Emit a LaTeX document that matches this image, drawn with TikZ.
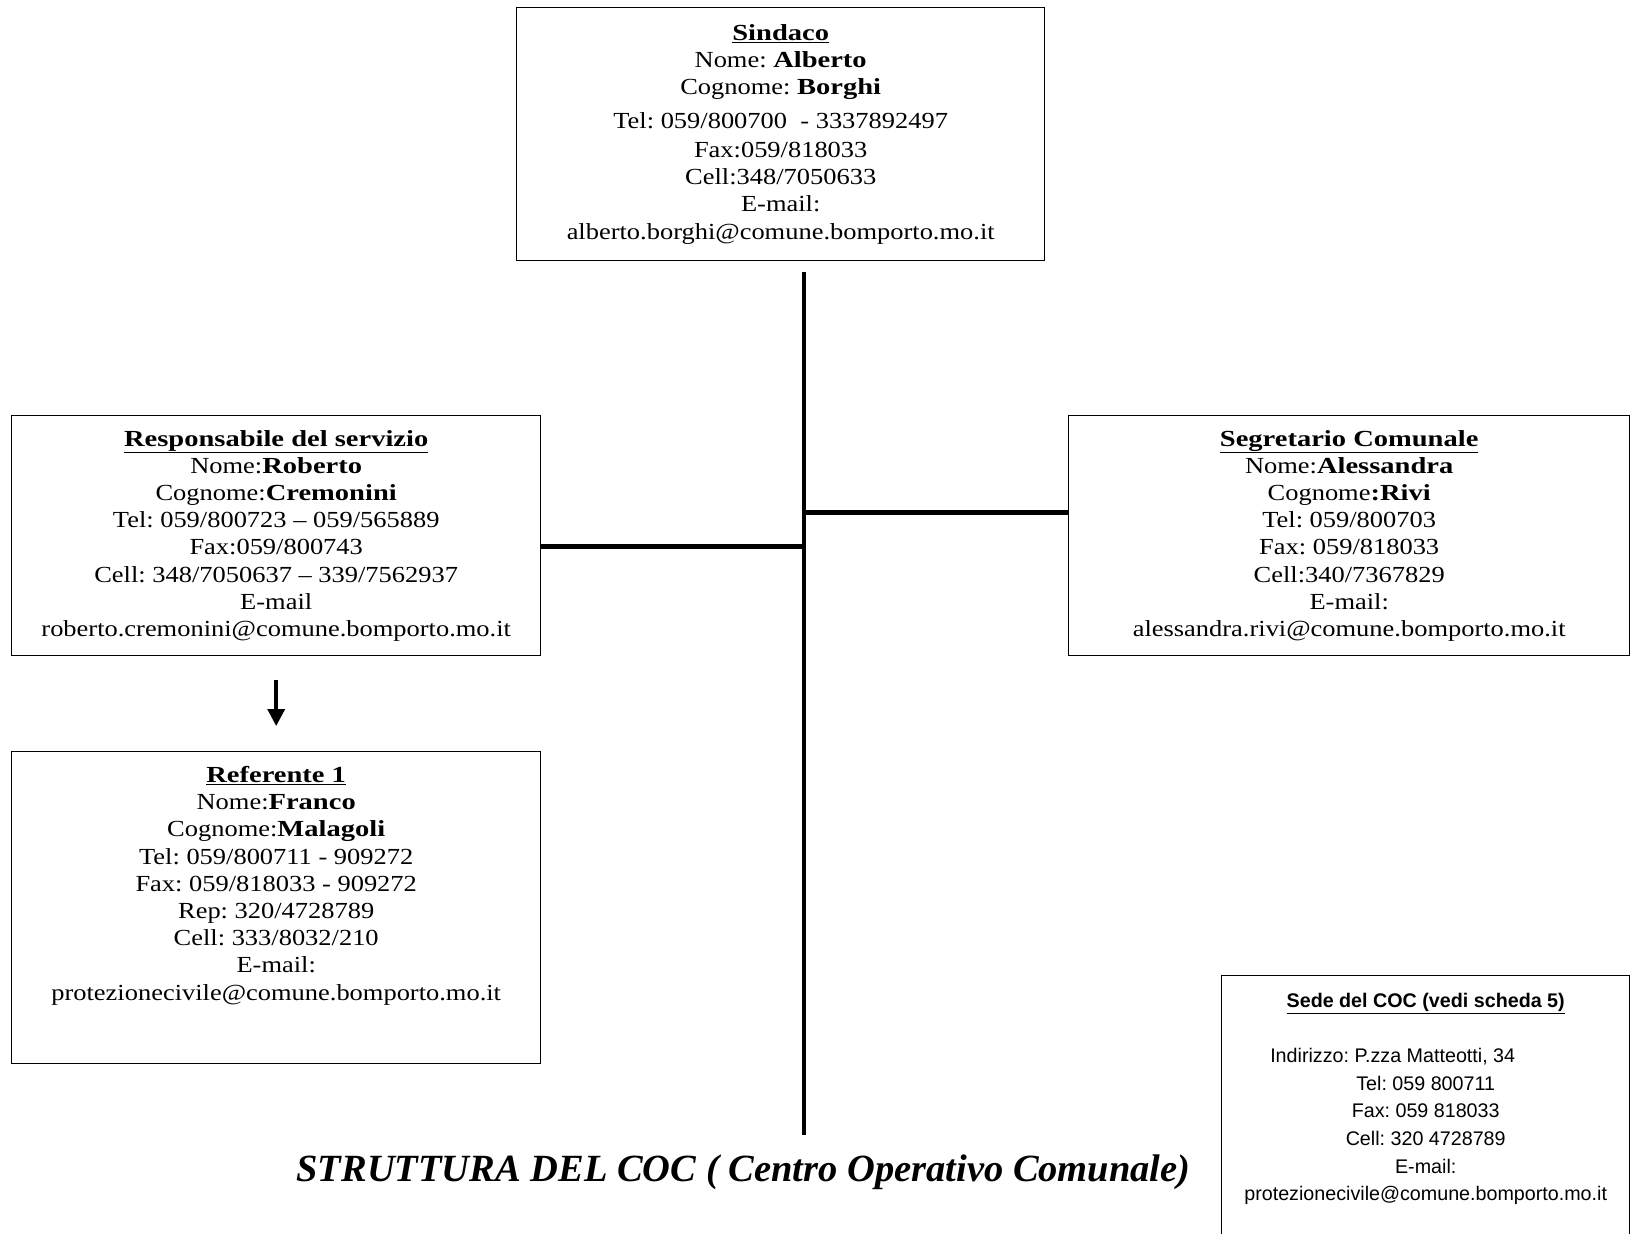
\documentclass[tikz,border=0pt]{standalone}
\usepackage{fontspec}
\setmainfont{Liberation Serif}
\newfontfamily\gfont[FakeStretch=1.15,BoldFeatures={FakeStretch=1.24}]{Liberation Serif}
\newfontfamily\afont{Liberation Sans}
\usetikzlibrary{arrows.meta}
\tikzset{
  frame/.style={draw, line width=1.4pt, inner sep=0pt, anchor=north west},
  txt/.style={align=center, inner sep=0pt, font=\gfont\fontsize{23}{27.2}\selectfont},
  sedetxt/.style={align=center, inner sep=0pt, font=\afont\fontsize{19.7}{27.6}\selectfont},
  conn/.style={line width=4.6pt},
  arr/.style={line width=3.6pt, -{Triangle[length=17pt,width=17pt]}},
  titlestyle/.style={inner sep=0pt, anchor=base, font=\bfseries\itshape\fontsize{38.5}{40}\selectfont}
}
\begin{document}
\frenchspacing
\begin{tikzpicture}[x=1pt,y=-1pt]
\useasboundingbox (0,0) rectangle (1631,1234);
\fill[white] (0,0) rectangle (1631,1234);

% Sindaco
\node[frame, minimum width=528pt, minimum height=253pt] (sind) at (516,7) {};
\node[txt] (sindT) at (sind.center) {\underline{\textbf{Sindaco}}\\ Nome: \textbf{Alberto}\\ Cognome: \textbf{Borghi}\\[7pt] Tel: 059/800700\ \ - 3337892497\\[1.5pt] Fax:059/818033\\ Cell:348/7050633\\ E-mail:\\ alberto.borghi@comune.bomporto.mo.it};

% Responsabile
\node[frame, minimum width=529pt, minimum height=240pt] (resp) at (11,415) {};
\node[txt] (respT) at (resp.center) {\underline{\textbf{Responsabile del servizio}}\\ Nome:\textbf{Roberto}\\ Cognome:\textbf{Cremonini}\\ Tel: 059/800723 – 059/565889\\ Fax:059/800743\\ Cell: 348/7050637 – 339/7562937\\ E-mail\\ roberto.cremonini@comune.bomporto.mo.it};

% Segretario
\node[frame, minimum width=561pt, minimum height=240pt] (segr) at (1068,415) {};
\node[txt] (segrT) at (segr.center) {\underline{\textbf{Segretario Comunale}}\\ Nome:\textbf{Alessandra}\\ Cognome\textbf{:Rivi}\\ Tel: 059/800703\\ Fax: 059/818033\\ Cell:340/7367829\\ E-mail:\\ alessandra.rivi@comune.bomporto.mo.it};

% Referente
\node[frame, minimum width=529pt, minimum height=312pt] (ref) at (11,751) {};
\node[txt] (refT) at ([yshift=22pt]ref.center) {\underline{\textbf{Referente 1}}\\ Nome:\textbf{Franco}\\ Cognome:\textbf{Malagoli}\\ Tel: 059/800711 - 909272\\ Fax: 059/818033 - 909272\\ Rep: 320/4728789\\ Cell: 333/8032/210\\ E-mail:\\ protezionecivile@comune.bomporto.mo.it};

% Sede
\node[frame, minimum width=408pt, minimum height=275pt] (sede) at (1221,975) {};
\node[sedetxt, anchor=north] (sedeT) at ([yshift=-18pt]sede.north) {\underline{\textbf{Sede del COC (vedi scheda 5)}}\\[27.6pt] Indirizzo: P.zza Matteotti, 34\hspace*{66pt}\mbox{}\\ Tel: 059 800711\\ Fax: 059 818033\\ Cell: 320 4728789\\ E-mail:\\ protezionecivile@comune.bomporto.mo.it};

% Title
\node[titlestyle] (title) at (743.5,1181) {STRUTTURA DEL COC ( Centro Operativo Comunale)};

% Connectors
\coordinate (ttop) at (804,272);
\coordinate (tbot) at (804,1135);
\draw[conn] (ttop) -- (tbot);
\draw[conn] ([yshift=-11pt]resp.east) -- ([yshift=-11pt]resp.east -| ttop);
\draw[conn] ([yshift=23.5pt]segr.west) -- ([yshift=23.5pt]segr.west -| ttop);
\draw[arr, shorten <=24pt, shorten >=25pt] (resp.south) -- (ref.north);
\end{tikzpicture}
\end{document}
